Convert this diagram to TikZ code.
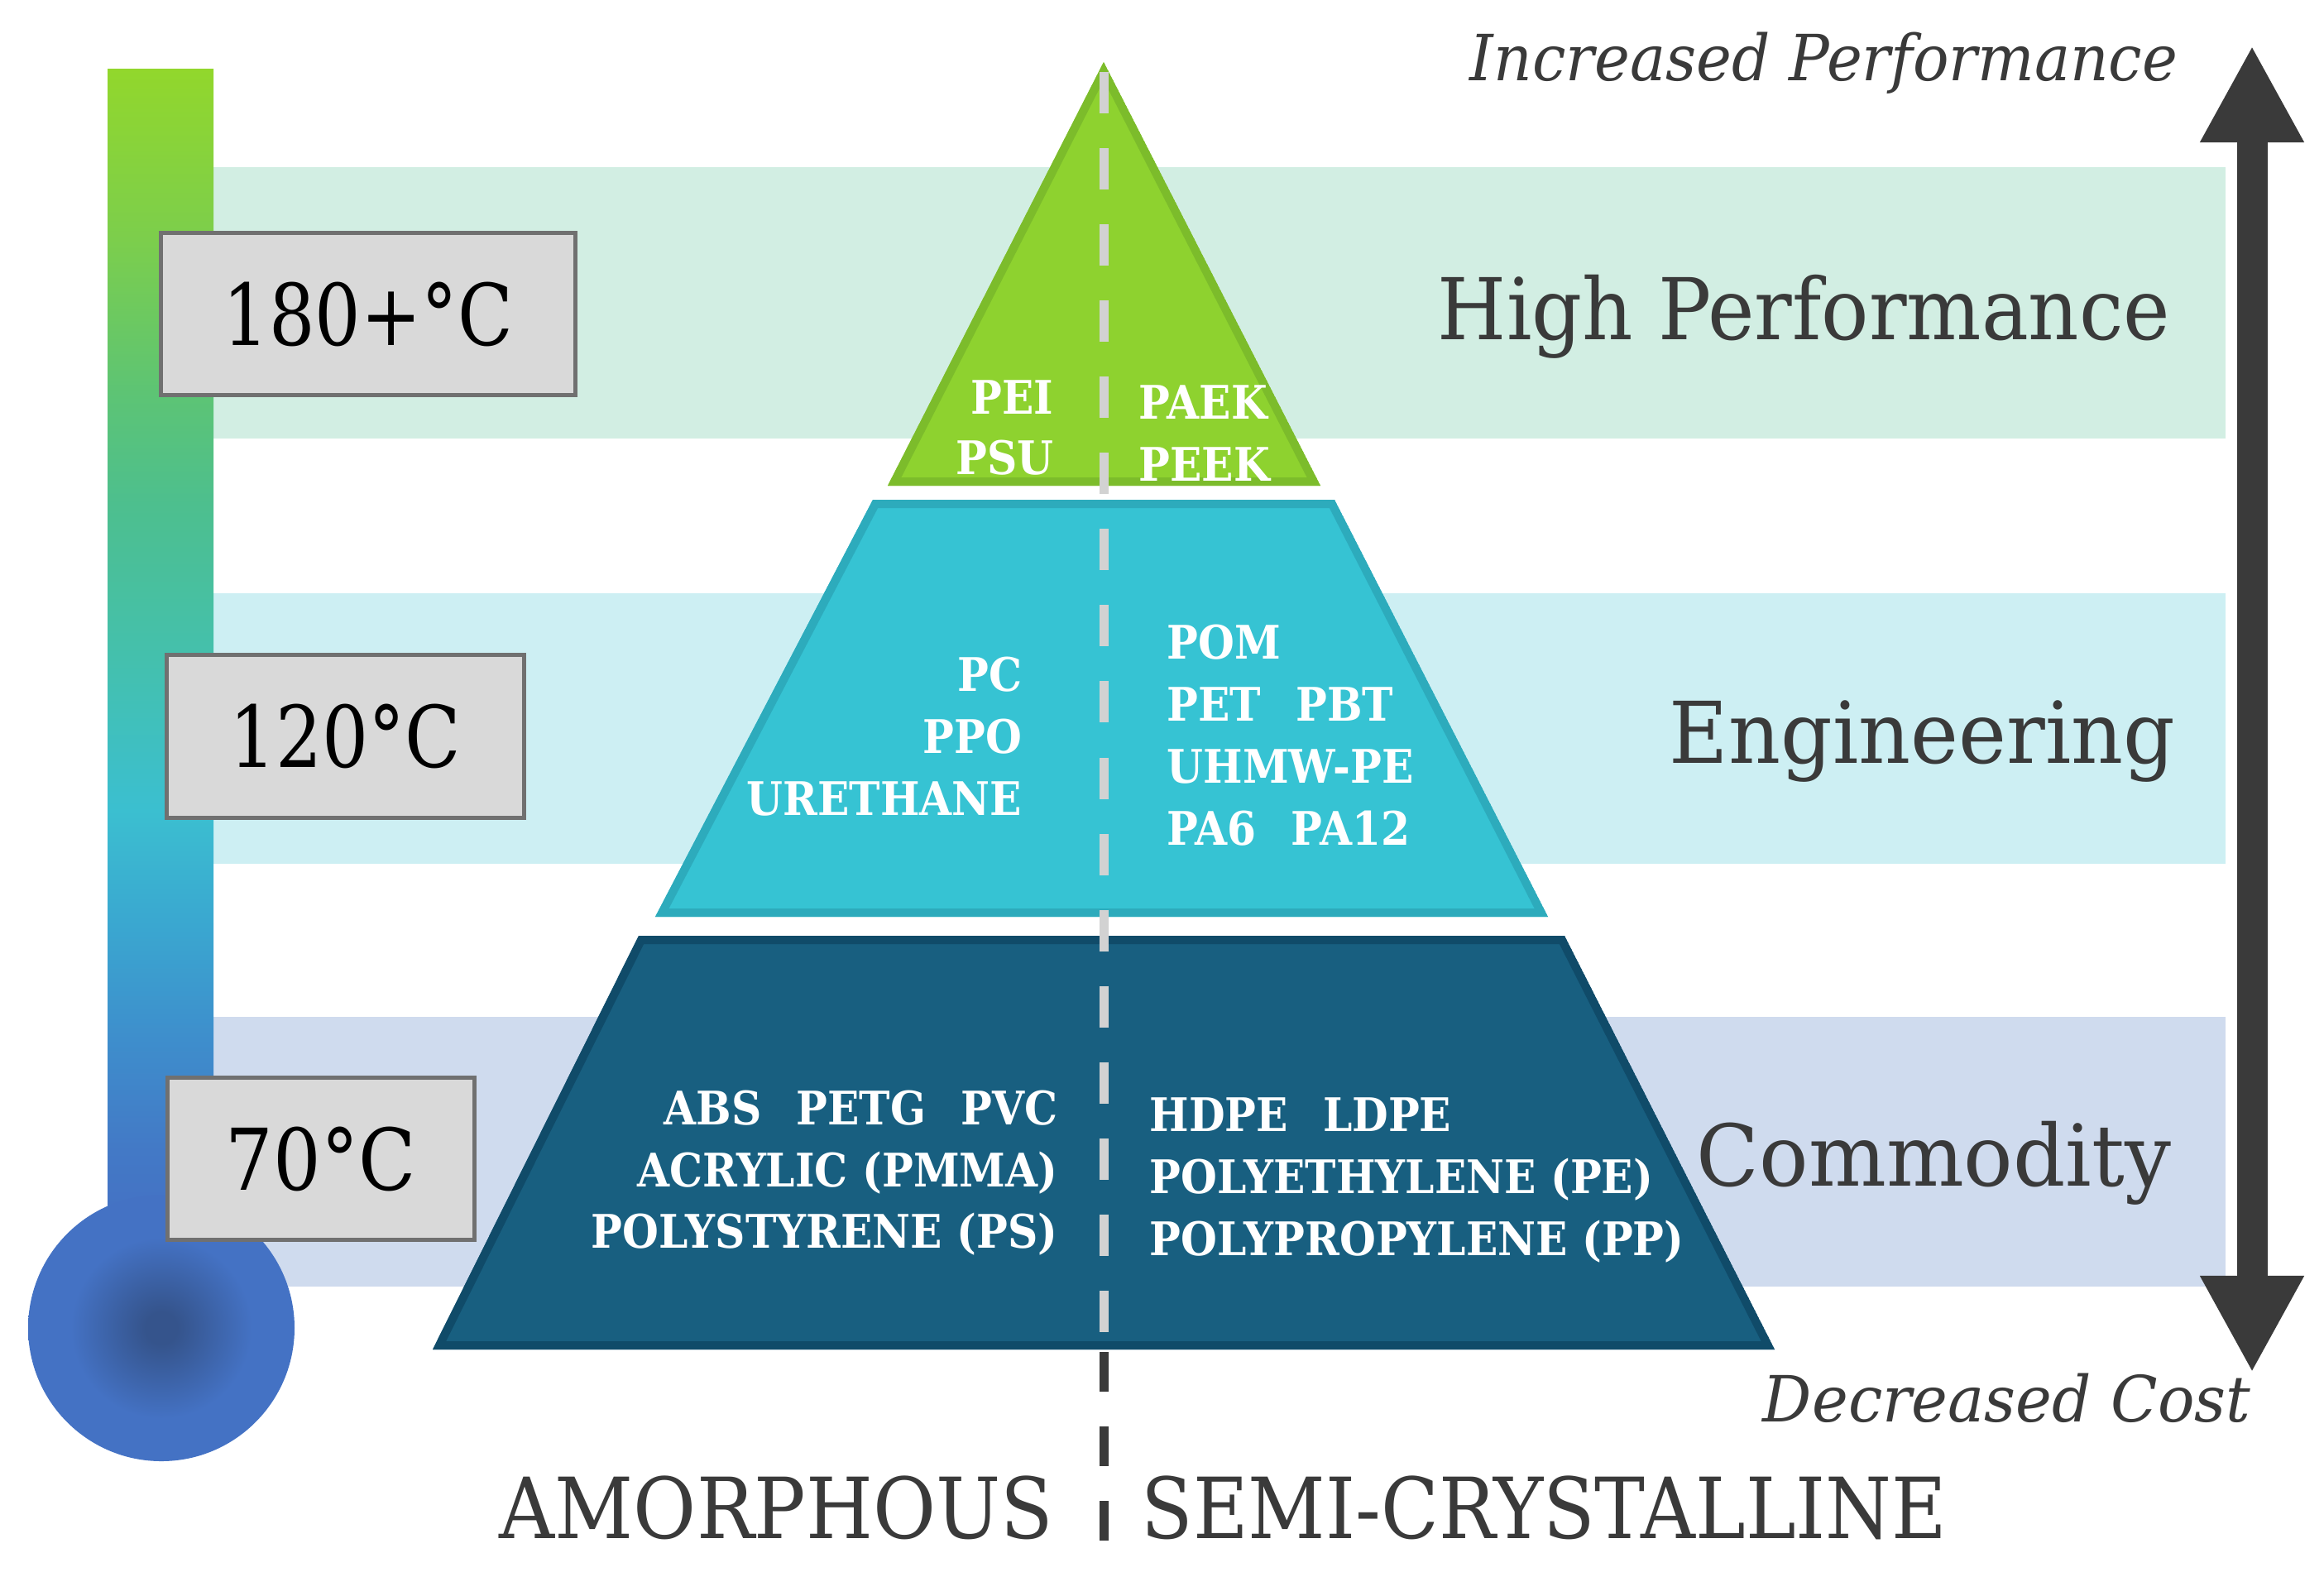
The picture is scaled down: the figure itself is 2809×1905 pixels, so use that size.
\documentclass[tikz,border=0pt]{standalone}
\usepackage{fontspec}
\usepackage{graphicx}
\setmainfont{DejaVu Serif}
\newfontfamily\wfontfam[FakeStretch=0.9]{DejaVu Serif}
\usetikzlibrary{arrows.meta}
\definecolor{mint}{HTML}{D2EEE3}
\definecolor{icecyan}{HTML}{CDEFF3}
\definecolor{lavblue}{HTML}{CFDBEE}
\definecolor{lgreen}{HTML}{8ED22F}
\definecolor{lgreenD}{HTML}{7CBC2B}
\definecolor{tealL}{HTML}{36C3D3}
\definecolor{tealD}{HTML}{2DABBC}
\definecolor{navyL}{HTML}{185F80}
\definecolor{navyD}{HTML}{104B69}
\definecolor{ink}{HTML}{3A3A3A}
\definecolor{boxfill}{HTML}{D9D9D9}
\definecolor{boxline}{HTML}{707070}
\definecolor{dashlight}{HTML}{D2D2D2}
\definecolor{th0}{HTML}{92D72C}
\definecolor{th1}{HTML}{7CCE4C}
\definecolor{th2}{HTML}{5DC474}
\definecolor{th3}{HTML}{4DBF8E}
\definecolor{th4}{HTML}{44C0AD}
\definecolor{th5}{HTML}{3BBFD0}
\definecolor{th6}{HTML}{3AA7D0}
\definecolor{th7}{HTML}{3E8ECC}
\definecolor{th8}{HTML}{4379C6}
\definecolor{th9}{HTML}{4472C4}
\definecolor{bulbdark}{HTML}{35548C}
\pgfdeclareverticalshading{thermo}{100bp}{color(0bp)=(th9); color(25bp)=(th9); color(26.8bp)=(th9); color(29.5bp)=(th8); color(34.2bp)=(th7); color(39bp)=(th6); color(43.8bp)=(th5); color(50.2bp)=(th4); color(56.7bp)=(th3); color(61.4bp)=(th2); color(67.8bp)=(th1); color(75bp)=(th0); color(100bp)=(th0)}
\pgfdeclareradialshading{bulbshade}{\pgfpoint{0bp}{0bp}}{color(0bp)=(bulbdark); color(3bp)=(bulbdark); color(17bp)=(th9); color(50bp)=(th9)}
\newcommand\fitw[2]{\resizebox{#1}{\height}{#2}}
\newcommand\gapp{\hspace{0.42cm}}
\tikzset{
  tempbox/.style={draw=boxline, line width=0.05cm, fill=boxfill, inner sep=0, text=black,
    font=\fontsize{29.3pt}{30pt}\selectfont},
  catlab/.style={inner sep=0, text=ink, font=\fontsize{29.3pt}{30pt}\selectfont, anchor=base east},
  itlab/.style={inner sep=0, text=ink, font=\fontsize{21.9pt}{23pt}\selectfont\itshape, anchor=base east},
  sidelab/.style={inner sep=0, text=ink, font=\fontsize{29pt}{30pt}\selectfont},
  wlab/.style={inner sep=0, text=white, font=\wfontfam\bfseries\fontsize{15.9pt}{18pt}\selectfont},
  wl/.style={wlab, anchor=base east},
  wr/.style={wlab, anchor=base west},
  lightdash/.style={draw=dashlight, line width=0.11cm, dash pattern=on 0.5cm off 0.42cm},
  darkdash/.style={draw=ink, line width=0.11cm, dash pattern=on 0.48cm off 0.42cm},
  bigarrow/.style={draw=ink, line width=0.37cm,
    {Triangle[length=1.17cm,width=1.17cm]}-{Triangle[length=1.17cm,width=1.17cm]}},
  rim/.style={line width=0.2cm, line join=miter},
}
\begin{document}
\begin{tikzpicture}[x=0.01cm,y=-0.01cm]
\useasboundingbox (0,0) rectangle (2809,1905);
\fill[white] (0,0) rectangle (2809,1905);

% background bands
\fill[mint] (257,202) rectangle (2690,530);
\fill[icecyan] (257,717) rectangle (2690,1044);
\fill[lavblue] (257,1229) rectangle (2690,1555);

% thermometer
\path[shading=thermo] (130,83) rectangle (258,1520);
\path[shading=bulbshade] (195,1605) circle (161);

% pyramid layers
\coordinate (gA) at (1334,75);
\coordinate (gR) at (1596,587);
\coordinate (gL) at (1073,587);
\begin{scope}
  \clip (gA) -- (gR) -- (gL) -- cycle;
  \fill[lgreen] (gA) -- (gR) -- (gL) -- cycle;
  \draw[lgreenD, rim] (gA) -- (gR) -- (gL) -- cycle;
\end{scope}
\coordinate (tTL) at (1055,604);
\coordinate (tTR) at (1613,604);
\coordinate (tBR) at (1871,1108);
\coordinate (tBL) at (792,1108);
\begin{scope}
  \clip (tTL) -- (tTR) -- (tBR) -- (tBL) -- cycle;
  \fill[tealL] (tTL) -- (tTR) -- (tBR) -- (tBL) -- cycle;
  \draw[tealD, rim] (tTL) -- (tTR) -- (tBR) -- (tBL) -- cycle;
\end{scope}
\coordinate (bTL) at (772,1131);
\coordinate (bTR) at (1891,1131);
\coordinate (bBR) at (2145,1631);
\coordinate (bBL) at (523,1631);
\begin{scope}
  \clip (bTL) -- (bTR) -- (bBR) -- (bBL) -- cycle;
  \fill[navyL] (bTL) -- (bTR) -- (bBR) -- (bBL) -- cycle;
  \draw[navyD, rim] (bTL) -- (bTR) -- (bBR) -- (bBL) -- cycle;
\end{scope}

% centre dividing line
\coordinate (dtop) at (1334,87);
\coordinate (dmid) at (1334,1631);
\coordinate (dmid2) at (1334,1634);
\coordinate (dbot) at (1334,1864);
\draw[lightdash] (dtop) -- (dmid);
\draw[darkdash] (dmid2) -- (dbot);

% temperature boxes
\node[tempbox, minimum width=5cm, minimum height=1.95cm] (t180) at (445,379.5) {\fitw{3.5cm}{180+°C}};
\node[tempbox, minimum width=4.31cm, minimum height=1.96cm] (t120) at (417.5,890) {\fitw{2.8cm}{120°C}};
\node[tempbox, minimum width=3.7cm, minimum height=1.95cm] (t70) at (388,1400.5) {\fitw{2.3cm}{70°C}};

% white material labels
\node[wl] (pei) at (1274,500) {PEI};
\node[wl] (psu) at (1274,573) {PSU};
\node[wr] (paek) at (1376,506) {PAEK};
\node[wr] (peek) at (1376,581) {PEEK};

\node[wl] (pc) at (1236,835) {PC};
\node[wl] (ppo) at (1236,910) {PPO};
\node[wl] (ure) at (1236,985) {URETHANE};
\node[wr] (pom) at (1410,796) {POM};
\node[wr] (pet) at (1410,871) {PET\gapp PBT};
\node[wr] (uhmw) at (1410,946) {UHMW-PE};
\node[wr] (pa) at (1410,1021) {PA6\gapp PA12};

\node[wl] (abs) at (1279,1359) {ABS\gapp PETG\gapp PVC};
\node[wl] (acr) at (1279,1434) {ACRYLIC (PMMA)};
\node[wl] (ps) at (1279,1508) {POLYSTYRENE (PS)};
\node[wr] (hdpe) at (1389,1367) {HDPE\gapp LDPE};
\node[wr] (pe) at (1389,1442) {POLYETHYLENE (PE)};
\node[wr] (pp) at (1389,1517) {POLYPROPYLENE (PP)};

% category labels
\node[catlab] (hp) at (2624,410) {\fitw{8.85cm}{High Performance}};
\node[catlab] (eng) at (2630,922) {\fitw{6.11cm}{Engineering}};
\node[catlab] (com) at (2625,1433) {\fitw{5.73cm}{Commodity}};

% axis arrow
\coordinate (atop) at (2722,55);
\coordinate (abot) at (2722,1659);
\draw[bigarrow] (atop) -- (abot);
\node[itlab] (incp) at (2633,97) {\fitw{8.55cm}{Increased Performance}};
\node[itlab] (decc) at (2721,1718) {\fitw{5.89cm}{Decreased Cost}};

% bottom labels
\node[sidelab, anchor=base east] (amo) at (1274,1859) {\fitw{6.69cm}{AMORPHOUS}};
\node[sidelab, anchor=base west] (semi) at (1379,1859) {\fitw{9.73cm}{SEMI-CRYSTALLINE}};
\end{tikzpicture}
\end{document}
